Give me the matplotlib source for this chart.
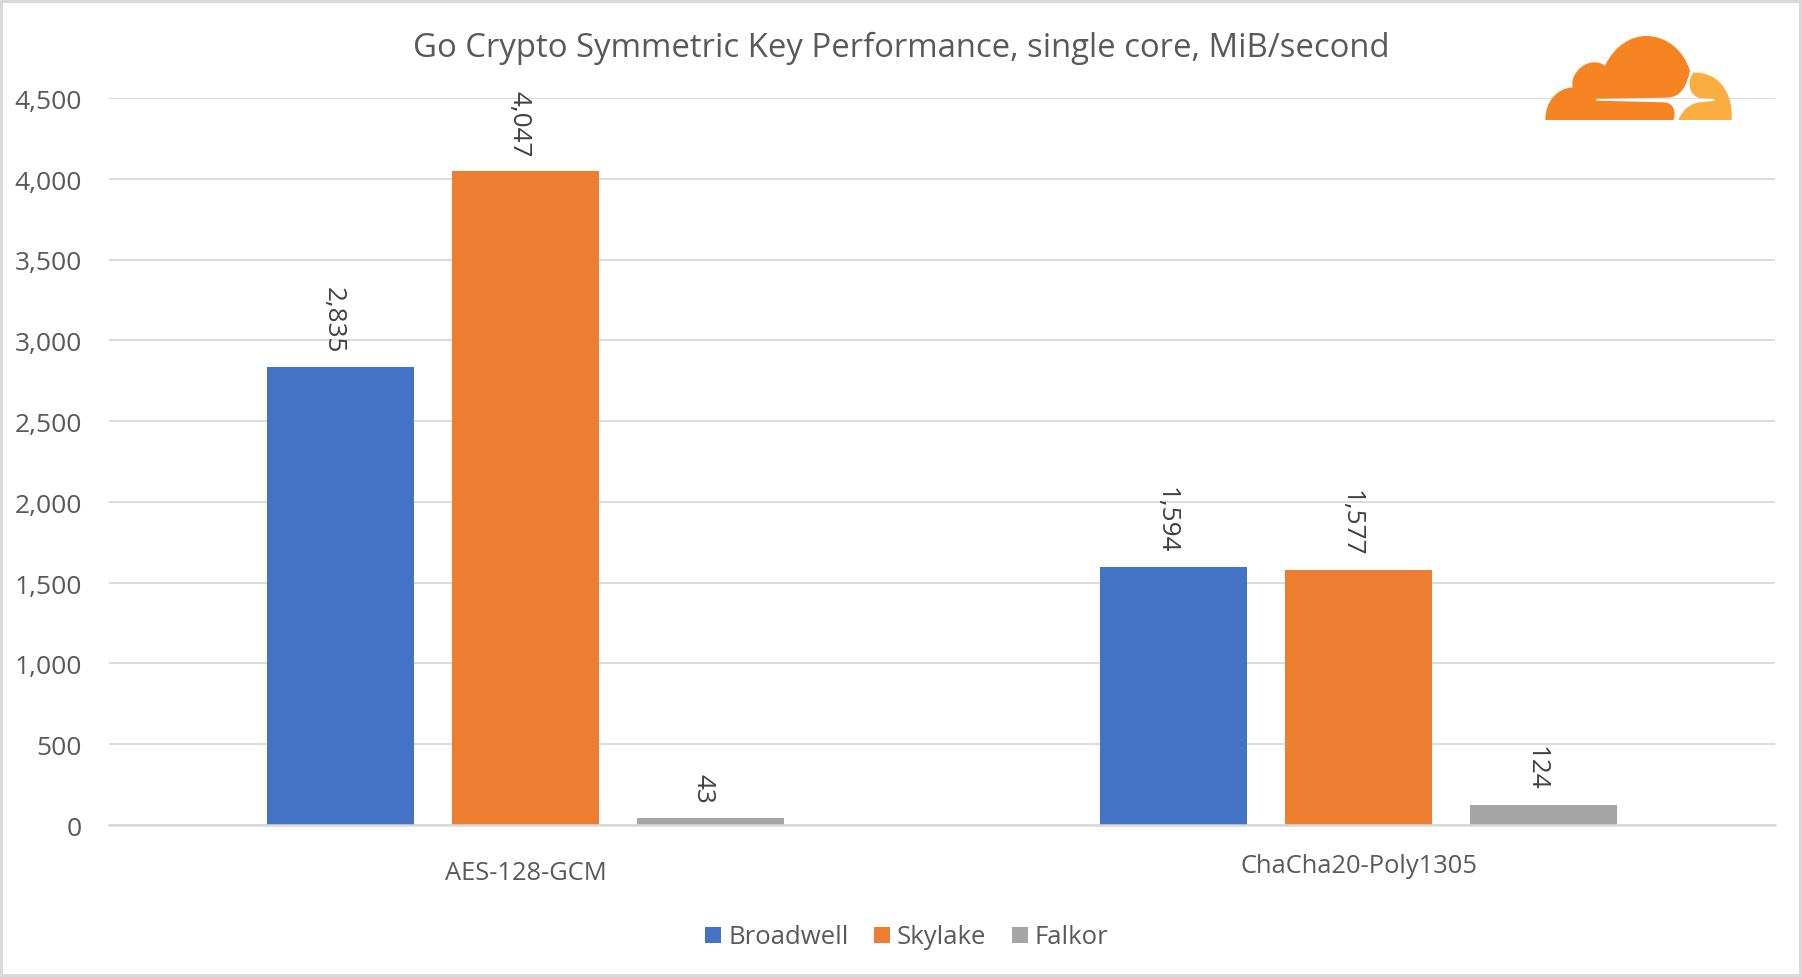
import matplotlib.pyplot as plt
from matplotlib.patches import PathPatch
from matplotlib.path import Path
from matplotlib.transforms import ScaledTranslation

#Values
categories = ["AES-128-GCM", "ChaCha20-Poly1305"]
broadwell = [2835, 1594]
skylake = [4047, 1577]
falkor = [43, 124]
yticks = [0, 500, 1000, 1500, 2000, 2500, 3000, 3500, 4000, 4500]

def setupPlot():
    plt.title("Go Crypto Symmetric Key Performance, single core, MiB/second", fontsize=23.7, color='#595959',
              x=(901 - 109) / 1666, pad=29.5)
    plt.xlim(-0.5, 1.5)
    plt.ylim(0, 4500)
    plt.xticks([0, 1], categories, fontsize=18.4, color='#595959')
    plt.yticks(yticks, [f"{v:,}" for v in yticks], fontsize=19, color='#595959')
    plt.tick_params(length=0)
    plt.tick_params(axis='y', pad=19.5)
    plt.grid(axis='y', color='#D9D9D9', linewidth=1.3)
    plt.gca().set_axisbelow(True)
    for side in ['top', 'right', 'left']:
        plt.gca().spines[side].set_visible(False)
    plt.gca().spines['bottom'].set_color('#D9D9D9')
    plt.gca().spines['bottom'].set_linewidth(1.8)

def barLabels(xpos, values):
    for x, v in zip(xpos, values):
        plt.annotate(f"{v:,}", (x, v), xytext=(-5, 10), textcoords='offset points', rotation=270,
                     ha='center', va='bottom', fontsize=18.8, color='#404040')

plt.style.use('default')
plt.rcParams['font.family'] = ['Open Sans', 'DejaVu Sans']

plt.figure(figsize=(18.02, 9.77), dpi=100, edgecolor='#D9D9D9', linewidth=4)
plt.axes([109 / 1802, 1 - 825 / 977, 1666 / 1802, 727 / 977])

step = 0.222
width = 0.176
plt.bar([i - step for i in range(2)], broadwell, width, color='#4472C4', label='Broadwell')
plt.bar([i for i in range(2)], skylake, width, color='#ED7D31', label='Skylake')
plt.bar([i + step for i in range(2)], falkor, width, color='#A5A5A5', label='Falkor')

barLabels([i - step for i in range(2)], broadwell)
barLabels([i for i in range(2)], skylake)
barLabels([i + step for i in range(2)], falkor)

setupPlot()

#The two category labels do not sit on the same height in the picture
ticks = plt.gca().xaxis.get_major_ticks()
ticks[0].set_pad(26)
ticks[1].set_pad(21)

#y labels sit a little under their grid lines
for label in plt.gca().get_yticklabels():
    label.set_transform(label.get_transform() + ScaledTranslation(0, -1 / 72, plt.gcf().dpi_scale_trans))

plt.figlegend(loc='center', bbox_to_anchor=(907 / 1802, 1 - 937.5 / 977), ncol=3, frameon=False, fontsize=18.5,
              labelcolor='#595959', handlelength=0.62, handleheight=0.62, handletextpad=0.27, columnspacing=1.0)

#Logo, in pixels of the picture
plt.axes([0, 0, 1, 1], facecolor='none')
plt.xlim(0, 1802)
plt.ylim(977, 0)
plt.axis('off')

M, L, C, Z = Path.MOVETO, Path.LINETO, Path.CURVE4, Path.CLOSEPOLY

def logoPoint(zx, zy):
    return (1500 + zx / 3, zy / 3)

dark = [(136, 360), (136, 305), (170, 265), (218, 262),
        (208, 215), (270, 165), (315, 197),
        (345, 135), (395, 108), (438, 108),
        (500, 108), (550, 150), (570, 212),
        (560, 255), (545, 293), (500, 293),
        (290, 296), (288, 302), (495, 307),
        (520, 310), (530, 335), (520, 360), (136, 360)]
darkCodes = [M, C, C, C, C, C, C, C, C, C, C, C, C, C, C, C, L, L, L, C, C, C, Z]
light = [(535, 360), (550, 325), (575, 307), (610, 306),
         (645, 302), (640, 296), (605, 295),
         (565, 290), (560, 245), (580, 218),
         (650, 215), (700, 270), (695, 360), (535, 360)]
lightCodes = [M, C, C, C, L, L, L, C, C, C, C, C, C, Z]

plt.gca().add_patch(PathPatch(Path([logoPoint(*p) for p in dark], darkCodes), facecolor='#F78422', edgecolor='none'))
plt.gca().add_patch(PathPatch(Path([logoPoint(*p) for p in light], lightCodes), facecolor='#FBAE40', edgecolor='none'))

plt.savefig("out.png", dpi=100)
